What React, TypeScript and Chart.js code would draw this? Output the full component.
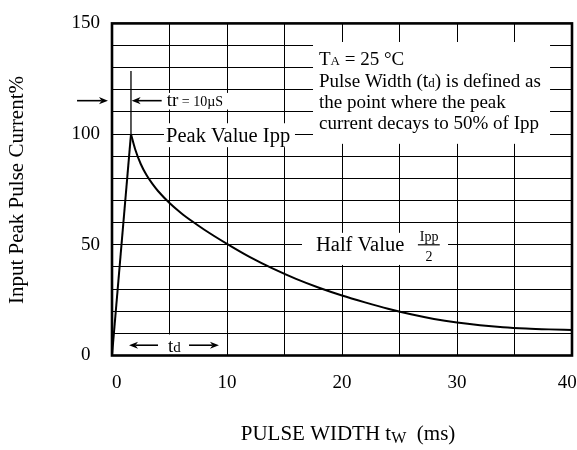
import React, { useEffect, useRef } from "react";
import { Chart, registerables } from "chart.js";

Chart.register(...registerables);

// ---- data ----
const riseX = [0, 1.65];
const riseY = [0, 100];
const decayX = [1.65, 2, 2.5, 3, 3.5, 4, 5, 6, 7, 8, 10, 12, 14, 16, 18, 20, 22, 24, 26, 28, 30, 32, 34, 36, 38, 40];
const decayY = [100, 93.4, 86.5, 81.5, 77.6, 74.3, 68.9, 64.4, 60.5, 56.9, 50.4, 44.4, 39.2, 34.6, 30.6, 27.1, 24.0, 21.1, 18.6, 16.5, 14.9, 13.7, 12.8, 12.2, 11.8, 11.5];
const xTickLabels = [0, 10, 20, 30, 40];
const yTickLabels = [0, 50, 100, 150];
const yTitle = "Input Peak Pulse Current%";

const FONT = '"Liberation Serif", "Times New Roman", serif';

type Seg = [string, number, number?];

function rich(ctx: CanvasRenderingContext2D, x: number, y: number, segs: Seg[], align: "left" | "center" = "left") {
  let total = 0;
  const widths = segs.map(([t, s]) => {
    ctx.font = `${s}px ${FONT}`;
    const w = ctx.measureText(t).width;
    total += w;
    return w;
  });
  let cx = align === "center" ? x - total / 2 : x;
  ctx.textAlign = "left";
  ctx.textBaseline = "alphabetic";
  segs.forEach(([t, s, dy], i) => {
    ctx.font = `${s}px ${FONT}`;
    ctx.fillText(t, cx, y + (dy || 0));
    cx += widths[i];
  });
}

function arrow(ctx: CanvasRenderingContext2D, x1: number, y1: number, x2: number, y2: number) {
  const ang = Math.atan2(y2 - y1, x2 - x1);
  const hl = 9, hw = 3.6;
  const c = Math.cos(ang), s = Math.sin(ang);
  ctx.beginPath();
  ctx.moveTo(x1, y1);
  ctx.lineTo(x2 - hl * 0.7 * c, y2 - hl * 0.7 * s);
  ctx.stroke();
  ctx.beginPath();
  ctx.moveTo(x2, y2);
  ctx.lineTo(x2 - hl * c + hw * s, y2 - hl * s - hw * c);
  ctx.lineTo(x2 - hl * 0.7 * c, y2 - hl * 0.7 * s);
  ctx.lineTo(x2 - hl * c - hw * s, y2 - hl * s + hw * c);
  ctx.closePath();
  ctx.fill();
}

const annotPlugin = {
  id: "annot",
  beforeDatasetsDraw(chart: any) {
    const { ctx } = chart;
    const xs = chart.scales.x, ys = chart.scales.y;
    const boxes = [
      [17.48, 38.09, 141.6, 95.6],
      [4.52, 15.91, 104.9, 94.1],
      [4.52, 10.35, 118.6, 111.1],
      [16.52, 29.22, 55.4, 40.9],
      [4.52, 6.43, 9.5, 0.3],
    ];
    ctx.save();
    ctx.fillStyle = "#fff";
    for (const [a, b, t, bo] of boxes) {
      const x0 = xs.getPixelForValue(a), x1 = xs.getPixelForValue(b);
      const y0 = ys.getPixelForValue(t), y1 = ys.getPixelForValue(bo);
      ctx.fillRect(x0, y0, x1 - x0, y1 - y0);
    }
    ctx.restore();
  },
  afterDatasetsDraw(chart: any) {
    const { ctx, chartArea: ca } = chart;
    const xs = chart.scales.x, ys = chart.scales.y;
    const X = (v: number) => xs.getPixelForValue(v);
    const Y = (v: number) => ys.getPixelForValue(v);
    ctx.save();
    // frame
    ctx.strokeStyle = "#000";
    ctx.lineWidth = 2.6;
    ctx.strokeRect(ca.left, ca.top, ca.right - ca.left, ca.bottom - ca.top);

    ctx.fillStyle = "#000";
    ctx.strokeStyle = "#000";
    ctx.lineWidth = 1.3;
    // tr marker line
    ctx.beginPath();
    ctx.moveTo(X(1.65), Y(128.5));
    ctx.lineTo(X(1.65), Y(100));
    ctx.stroke();
    ctx.lineWidth = 1.6;
    arrow(ctx, X(-3.04), Y(115.1), X(-0.35), Y(115.1));
    arrow(ctx, X(4.32), Y(115.1), X(1.71), Y(115.1));
    // td arrows
    arrow(ctx, X(4.0), Y(4.64), X(1.48), Y(4.64));
    arrow(ctx, X(6.7), Y(4.64), X(9.3), Y(4.64));

    // texts
    rich(ctx, X(4.76), Y(112.9), [["tr", 19], [" = 10\u00B5S", 14]]);
    rich(ctx, X(4.7), Y(96.3), [["Peak Value Ipp", 20.5]]);
    rich(ctx, X(17.74), Y(47.1), [["Half Value", 20.5]]);
    rich(ctx, X(27.57), Y(51.9), [["Ipp", 14]], "center");
    rich(ctx, X(27.57), Y(42.6), [["2", 14]], "center");
    ctx.lineWidth = 1.2;
    ctx.beginPath();
    ctx.moveTo(X(26.6), Y(50));
    ctx.lineTo(X(28.5), Y(50));
    ctx.stroke();
    rich(ctx, X(4.87), Y(1.55), [["t", 19], ["d", 15]]);

    const lx = X(18.0);
    rich(ctx, lx, Y(131.0), [["T", 19], ["A", 13], [" = 25 \u00B0C", 19]]);
    rich(ctx, lx, Y(121.3), [["Pulse Width (", 19], ["t", 20], ["d", 13], [") is defined as", 19]]);
    rich(ctx, lx, Y(111.6), [["the point where the peak", 19]]);
    rich(ctx, lx, Y(102.3), [["current decays to 50% of Ipp", 19]]);
    ctx.restore();
  },
  afterDraw(chart: any) {
    const { ctx } = chart;
    ctx.save();
    ctx.fillStyle = "#000";
    // x title
    rich(ctx, 348, 440, [["PULSE WIDTH t", 21], ["W", 16, 3], ["  (ms)", 21]], "center");
    // y title
    ctx.translate(17, 190);
    ctx.rotate(-Math.PI / 2);
    ctx.font = `21px ${FONT}`;
    ctx.textAlign = "center";
    ctx.textBaseline = "middle";
    ctx.fillText(yTitle, 0, 0);
    ctx.restore();
  },
};

export default function App() {
  const ref = useRef<HTMLCanvasElement | null>(null);
  useEffect(() => {
    if (!ref.current) return;
    const chart = new Chart(ref.current, {
      type: "line",
      data: {
        datasets: [
          {
            data: riseX.map((x, i) => ({ x, y: riseY[i] })),
            borderColor: "#000",
            borderWidth: 2,
            pointRadius: 0,
            tension: 0,
          },
          {
            data: decayX.map((x, i) => ({ x, y: decayY[i] })),
            borderColor: "#000",
            borderWidth: 2,
            pointRadius: 0,
            cubicInterpolationMode: "monotone",
          },
        ],
      },
      options: {
        animation: false,
        responsive: false,
        events: [],
        layout: { padding: { top: 16, right: 5, left: 0, bottom: 0 } },
        plugins: { legend: { display: false }, tooltip: { enabled: false } },
        scales: {
          x: {
            type: "linear",
            min: 0,
            max: 40,
            afterFit: (s: any) => {
              s.height = 94.5;
              s.paddingRight = 0;
              s.paddingLeft = 0;
            },
            ticks: {
              stepSize: 5,
              padding: 16,
              color: "#000",
              font: { family: FONT, size: 19 },
              maxRotation: 0,
              autoSkip: false,
              callback: (v: any) => {
                const n = Number(v);
                if (!xTickLabels.includes(n)) return "";
                if (n === 40) return "40\u00A0\u00A0";
                if (n === 0) return "\u00A0\u00A00";
                return String(n);
              },
            },
            grid: { color: "#000", lineWidth: 1, drawTicks: false },
            border: { display: false },
          },
          y: {
            type: "linear",
            min: 0,
            max: 150,
            afterFit: (s: any) => {
              s.width = 112;
            },
            ticks: {
              stepSize: 10,
              padding: 12,
              color: "#000",
              font: { family: FONT, size: 19 },
              autoSkip: false,
              callback: (v: any) => {
                const n = Number(v);
                if (!yTickLabels.includes(n)) return "";
                if (n === 0) return "0\u00A0\u00A0";
                return String(n);
              },
            },
            grid: { color: "#000", lineWidth: 1, drawTicks: false },
            border: { display: false },
          },
        },
      },
      plugins: [annotPlugin],
    } as any);
    return () => chart.destroy();
  }, []);
  return (
    <div style={{ position: "fixed", left: 0, top: 0, width: 577, height: 450, background: "#fff" }}>
      <canvas ref={ref} width={577} height={450} style={{ width: 577, height: 450, display: "block" }} />
    </div>
  );
}
